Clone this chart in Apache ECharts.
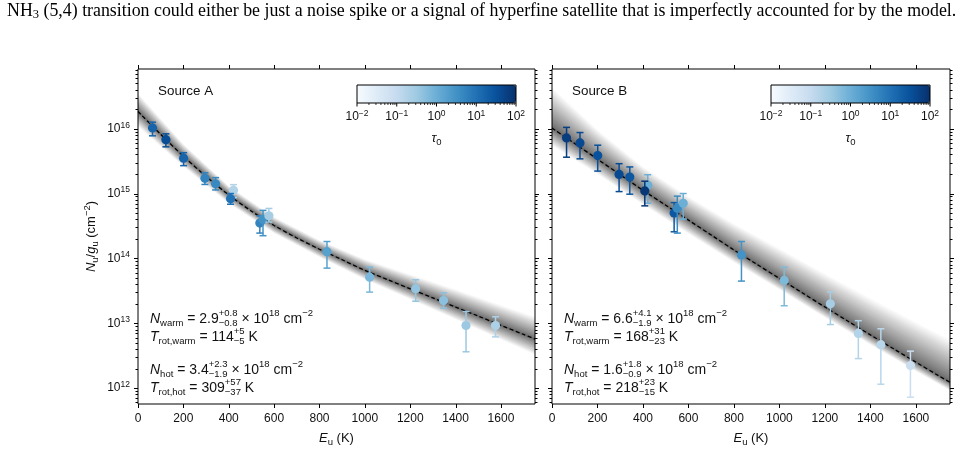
<!DOCTYPE html>
<html>
<head>
<meta charset="utf-8">
<script src="https://cdn.jsdelivr.net/npm/echarts@6/dist/echarts.min.js"></script>
<style>
html, body { margin: 0; padding: 0; background: #fff; }
#chart { width: 965px; height: 452px; }
</style>
</head>
<body>
<div id="chart"></div>
<script>
// upper level energies (K), same transitions for both sources
var energies = [64, 123, 201, 295, 342, 421, 408, 537, 551, 577, 833, 1021, 1224, 1347, 1446, 1576];

// Source A : log10(Nu/gu), error bar ends and log10(tau0)
var logNA = [16.01, 15.83, 15.545, 15.234, 15.15, 15.05, 14.92, 14.544, 14.60, 14.656, 14.104, 13.71, 13.533, 13.35, 12.965, 12.965];
var hiA   = [16.10, 15.92, 15.63, 15.32, 15.245, 15.137, 15.0, 14.656, 14.74, 14.77, 14.26, 13.865, 13.67, 13.47, 13.18, 13.10];
var loA   = [15.89, 15.72, 15.43, 15.14, 15.055, 14.938, 14.835, 14.39, 14.35, 14.56, 13.85, 13.48, 13.34, 13.23, 12.56, 12.79];
var tauA  = [1.2, 1.56, 1.2, 0.72, 0.64, -0.76, 1.0, 0.72, 0.48, -0.6, 0.24, -0.16, -0.4, -0.32, -0.48, -0.68];

// Source B
var logNB = [15.857, 15.78, 15.586, 15.295, 15.254, 15.126, 15.04, 14.70, 14.774, 14.85, 14.054, 13.66, 13.30, 12.843, 12.67, 12.348];
var hiB   = [16.02, 15.94, 15.745, 15.46, 15.41, 15.29, 15.19, 14.86, 14.96, 15.0, 14.26, 13.865, 13.48, 13.04, 12.915, 12.57];
var loB   = [15.56, 15.535, 15.346, 15.03, 14.99, 14.85, 14.81, 14.41, 14.39, 14.605, 13.65, 13.27, 12.98, 12.455, 12.06, 11.86];
var tauB  = [1.8, 1.6, 1.5, 1.6, 1.4, 0.0, 1.9, 1.4, 0.6, 0.0, 0.48, -0.2, -0.6, -0.76, -0.84, -1.08];

// best fit curves (log10)
var fitE = [0, 100, 200, 300, 400, 500, 600, 700, 800, 900, 1000, 1100, 1200, 1300, 1400, 1500, 1600, 1700, 1750];
var fitA = [16.265, 15.912, 15.575, 15.262, 14.978, 14.728, 14.508, 14.315, 14.141, 13.979, 13.815, 13.672, 13.530, 13.390, 13.250, 13.110, 12.968, 12.827, 12.756];
var fitB = [16.01, 15.77, 15.53, 15.29, 15.05, 14.82, 14.59, 14.36, 14.13, 13.91, 13.69, 13.47, 13.25, 13.035, 12.82, 12.61, 12.40, 12.19, 12.09];

// spread of the posterior band above / below the fit (dex)
var bandE   = [0, 200, 400, 600, 800, 1000, 1200, 1400, 1600, 1750];
var bandUpA = [0.28, 0.19, 0.14, 0.13, 0.14, 0.17, 0.22, 0.27, 0.31, 0.34];
var bandLoA = [0.23, 0.16, 0.13, 0.12, 0.12, 0.14, 0.16, 0.19, 0.22, 0.24];
var bandUpB = [0.62, 0.45, 0.36, 0.36, 0.40, 0.46, 0.51, 0.56, 0.61, 0.65];
var bandLoB = [0.27, 0.23, 0.22, 0.21, 0.19, 0.17, 0.16, 0.15, 0.14, 0.13];

var xTicks = [0, 200, 400, 600, 800, 1000, 1200, 1400, 1600];
var yMajor = [12, 13, 14, 15, 16];
var cbMajor = [-2, -1, 0, 1, 2];

var fitTextA = [
    [['N', 'i'], ['warm', 'sub'], [' = 2.9', 'n'], ['+0.8|−0.8', 'pm'], [' × 10', 'n'], ['18', 'sup'], [' cm', 'n'], ['−2', 'sup']],
    [['T', 'i'], ['rot,warm', 'sub'], [' = 114', 'n'], ['+5|−5', 'pm'], [' K', 'n']],
    [['N', 'i'], ['hot', 'sub'], [' = 3.4', 'n'], ['+2.3|−1.9', 'pm'], [' × 10', 'n'], ['18', 'sup'], [' cm', 'n'], ['−2', 'sup']],
    [['T', 'i'], ['rot,hot', 'sub'], [' = 309', 'n'], ['+57|−37', 'pm'], [' K', 'n']]
];
var fitTextB = [
    [['N', 'i'], ['warm', 'sub'], [' = 6.6', 'n'], ['+4.1|−1.9', 'pm'], [' × 10', 'n'], ['18', 'sup'], [' cm', 'n'], ['−2', 'sup']],
    [['T', 'i'], ['rot,warm', 'sub'], [' = 168', 'n'], ['+31|−23', 'pm'], [' K', 'n']],
    [['N', 'i'], ['hot', 'sub'], [' = 1.6', 'n'], ['+1.8|−0.9', 'pm'], [' × 10', 'n'], ['18', 'sup'], [' cm', 'n'], ['−2', 'sup']],
    [['T', 'i'], ['rot,hot', 'sub'], [' = 218', 'n'], ['+23|−15', 'pm'], [' K', 'n']]
];

var caption = ' (5,4) transition could either be just a noise spike or a signal of hyperfine satellite that is imperfectly accounted for by the model.';

var blues = ['#f7fbff', '#deebf7', '#c6dbef', '#9ecae1', '#6baed6', '#4292c6', '#2171b5', '#08519c', '#08306b'];

var FONT = '"Liberation Sans", Arial, sans-serif';
var SERIF = '"Liberation Serif", "Times New Roman", serif';
var Y_MIN = 11.755, Y_MAX = 16.92;
var N_LAYERS = 30;

var yMinor = [];
for (var n = 11; n <= 16; n++) {
    for (var k = 2; k <= 9; k++) {
        var v = n + Math.log10(k);
        if (v > Y_MIN && v < Y_MAX) yMinor.push(v);
    }
}
var cbMinor = [];
for (var n2 = -2; n2 < 2; n2++) {
    for (var k2 = 2; k2 <= 9; k2++) cbMinor.push(n2 + Math.log10(k2));
}

var measure = document.createElement('canvas').getContext('2d');
function textWidth(t, size, italic, family) {
    measure.font = (italic ? 'italic ' : '') + size + 'px ' + (family || FONT);
    return measure.measureText(t).width;
}

function expLabel(v) {
    var r = Math.round(v);
    if (Math.abs(v - r) > 1e-6) return '';
    return '{n|10}{p|' + (r < 0 ? '−' + (-r) : r) + '}';
}

var tickRich = {
    n: { fontSize: 12, lineHeight: 16, fontFamily: FONT, color: '#111' },
    p: { fontSize: 8.5, lineHeight: 8, verticalAlign: 'top', fontFamily: FONT, color: '#111' }
};
var nameRich = {
    n: { fontSize: 13, lineHeight: 18, fontFamily: FONT, color: '#111' },
    i: { fontSize: 13, lineHeight: 18, fontFamily: FONT, fontStyle: 'italic', color: '#111' },
    s: { fontSize: 9.5, lineHeight: 10, verticalAlign: 'bottom', fontFamily: FONT, color: '#111' },
    p: { fontSize: 9.5, lineHeight: 10, verticalAlign: 'top', fontFamily: FONT, color: '#111' }
};

function seg(x1, y1, x2, y2, w) {
    return { type: 'line', shape: { x1: x1, y1: y1, x2: x2, y2: y2 }, style: { stroke: '#000', lineWidth: w || 1 } };
}

// frame ticks drawn outward on all four sides
function frameTicks(params, api) {
    var cs = params.coordSys;
    var L = cs.x, R = cs.x + cs.width, T = cs.y, B = cs.y + cs.height;
    var kids = [];
    xTicks.forEach(function (v) {
        var px = Math.round(api.coord([v, Y_MIN])[0]) + 0.5;
        kids.push(seg(px, B, px, B + 4));
        kids.push(seg(px, T, px, T - 4));
    });
    yMajor.forEach(function (v) {
        var py = Math.round(api.coord([0, v])[1]) + 0.5;
        kids.push(seg(L - 4, py, L, py));
        kids.push(seg(R, py, R + 4, py));
    });
    yMinor.forEach(function (v) {
        var py = Math.round(api.coord([0, v])[1]) + 0.5;
        kids.push(seg(L - 2.5, py, L, py));
        kids.push(seg(R, py, R + 2.5, py));
    });
    return { type: 'group', children: kids };
}

function colorbarTicks(params, api) {
    var cs = params.coordSys;
    var B = cs.y + cs.height;
    var kids = [];
    cbMajor.forEach(function (v) {
        var px = api.coord([v, 0])[0];
        kids.push(seg(px, B, px, B + 3.5));
    });
    cbMinor.forEach(function (v) {
        var px = api.coord([v, 0])[0];
        kids.push(seg(px, B, px, B + 2, 0.8));
    });
    return { type: 'group', children: kids };
}

function renderPoint(params, api) {
    var e = api.value(0);
    var c = api.coord([e, api.value(1)]);
    var lo = api.coord([e, api.value(2)]);
    var hi = api.coord([e, api.value(3)]);
    var color = api.visual('color');
    var st = { stroke: color, lineWidth: 1.5 };
    return {
        type: 'group',
        children: [
            { type: 'line', shape: { x1: c[0], y1: hi[1], x2: c[0], y2: lo[1] }, style: st },
            { type: 'line', shape: { x1: c[0] - 3.5, y1: hi[1], x2: c[0] + 3.5, y2: hi[1] }, style: st },
            { type: 'line', shape: { x1: c[0] - 3.5, y1: lo[1], x2: c[0] + 3.5, y2: lo[1] }, style: st },
            { type: 'circle', shape: { cx: c[0], cy: c[1], r: 4.6 }, style: { fill: color } }
        ]
    };
}

// soft grey band: many thin translucent layers, packed towards the fit line
function bandSeries(idx, fit, up, lo) {
    var layers = [];
    for (var k = 0; k < N_LAYERS; k++) layers.push([0, fit[0]]);
    return {
        type: 'custom', xAxisIndex: idx, yAxisIndex: idx, silent: true, z: 1,
        data: layers,
        renderItem: function (params, api) {
            var f = Math.pow((params.dataIndex + 1) / N_LAYERS, 1.5);
            var top = [], bot = [];
            bandE.forEach(function (e, i) {
                var mid = fit[fitE.indexOf(e)];
                top.push(api.coord([e, mid + up[i] * f]));
                bot.unshift(api.coord([e, mid - lo[i] * f]));
            });
            return { type: 'polygon', shape: { points: top.concat(bot) }, style: { fill: 'rgba(0,0,0,0.026)' } };
        }
    };
}

function fitSeries(idx, fit) {
    return {
        type: 'line', xAxisIndex: idx, yAxisIndex: idx, silent: true, z: 3,
        data: fitE.map(function (e, i) { return [e, fit[i]]; }),
        symbol: 'none', smooth: 0.3,
        lineStyle: { color: '#000', width: 1.3, type: [4, 2.5] }
    };
}

function pointSeries(idx, logN, lo, hi, tau) {
    return {
        type: 'custom', xAxisIndex: idx, yAxisIndex: idx, silent: true, z: 4,
        data: energies.map(function (e, i) { return [e, logN[i], lo[i], hi[i], tau[i]]; }),
        encode: { x: 0, y: [1, 2, 3] },
        renderItem: renderPoint
    };
}

function mainX(idx) {
    return {
        type: 'value', gridIndex: idx, min: 0, max: 1750, interval: 200,
        axisLine: { show: false }, axisTick: { show: false }, splitLine: { show: false },
        axisLabel: {
            margin: 9, fontSize: 12, fontFamily: FONT, color: '#111',
            formatter: function (v) { return v % 200 === 0 ? String(v) : ''; }
        },
        name: '{i|E}{s|u}{n| (K)}', nameLocation: 'middle', nameGap: 25,
        nameTextStyle: { rich: nameRich }
    };
}

function mainY(idx, labels) {
    var ax = {
        type: 'value', gridIndex: idx, min: Y_MIN, max: Y_MAX,
        axisLine: { show: false }, axisTick: { show: false }, splitLine: { show: false },
        axisLabel: { show: labels, margin: 8, formatter: expLabel, rich: tickRich }
    };
    if (labels) {
        ax.name = '{i|N}{s|u}{n|/}{i|g}{s|u}{n| (cm}{p|−2}{n|)}';
        ax.nameLocation = 'middle';
        ax.nameGap = 38;
        ax.nameTextStyle = { rich: nameRich };
    }
    return ax;
}

function cbX(idx) {
    return {
        type: 'value', gridIndex: idx, min: -2, max: 2, interval: 1,
        axisLine: { show: false }, axisTick: { show: false }, splitLine: { show: false },
        axisLabel: { margin: 6, formatter: expLabel, rich: tickRich },
        name: '{i|τ}{s|0}', nameLocation: 'middle', nameGap: 26,
        nameTextStyle: { rich: nameRich }
    };
}

function cbY(idx) {
    return { type: 'value', gridIndex: idx, min: 0, max: 1, show: false };
}

// annotation text built piece by piece so sub / superscripts stack like the original
function annotation(lines, x0, ys) {
    var out = [];
    lines.forEach(function (segs, li) {
        var x = x0, y = ys[li];
        segs.forEach(function (s) {
            var t = s[0], kind = s[1];
            if (kind === 'pm') {
                var parts = t.split('|');
                out.push(txt(parts[0], x, y - 5.5, 9.5, false));
                out.push(txt(parts[1], x, y + 4.5, 9.5, false));
                x += Math.max(textWidth(parts[0], 9.5), textWidth(parts[1], 9.5));
            } else {
                var small = kind === 'sub' || kind === 'sup';
                var size = small ? 9.5 : 14;
                var dy = kind === 'sub' ? 4 : (kind === 'sup' ? -5.5 : 0);
                out.push(txt(t, x, y + dy, size, kind === 'i'));
                x += textWidth(t, size, kind === 'i');
            }
        });
    });
    return out;
}

function txt(t, x, y, size, italic) {
    return {
        type: 'text', x: x, y: y, silent: true, z: 20,
        style: {
            text: t, fontSize: size, fontFamily: FONT, fontStyle: italic ? 'italic' : 'normal',
            fill: '#111', align: 'left', verticalAlign: 'middle'
        }
    };
}

var capSize = 15;
var capW = textWidth('NH', capSize, false, SERIF) + textWidth('3', capSize * 0.7, false, SERIF) + textWidth(caption, capSize, false, SERIF);
capSize = capSize * 950 / capW;

var annY = [319.3, 337.3, 370, 388.3];

var graphics = [
    {
        type: 'text', x: 7, y: 11, silent: true,
        style: {
            text: '{a|NH}{s|3}{a|' + caption + '}',
            verticalAlign: 'middle', align: 'left',
            rich: {
                a: { fontSize: capSize, fontFamily: SERIF, fill: '#000', lineHeight: capSize + 2 },
                s: { fontSize: capSize * 0.7, fontFamily: SERIF, fill: '#000', verticalAlign: 'bottom', lineHeight: capSize * 0.6 }
            }
        }
    },
    txt('Source A', 158, 91.7, 13.4, false),
    txt('Source B', 572, 91.7, 13.4, false)
].concat(annotation(fitTextA, 150, annY)).concat(annotation(fitTextB, 564, annY));

var myChart = echarts.init(document.getElementById('chart'), null, { renderer: 'canvas' });

var option = {
    animation: false,
    backgroundColor: '#fff',
    grid: [
        { left: 138, top: 69, width: 397, height: 337, show: true, borderColor: '#000', borderWidth: 1 },
        { left: 552, top: 69, width: 398, height: 337, show: true, borderColor: '#000', borderWidth: 1 },
        { left: 357, top: 85, width: 159, height: 18, show: true, borderColor: '#000', borderWidth: 1, z: 10 },
        { left: 771, top: 85, width: 159, height: 18, show: true, borderColor: '#000', borderWidth: 1, z: 10 }
    ],
    xAxis: [mainX(0), mainX(1), cbX(2), cbX(3)],
    yAxis: [mainY(0, true), mainY(1, false), cbY(2), cbY(3)],
    visualMap: [
        {
            type: 'continuous', seriesIndex: 4, dimension: 4, min: -2, max: 2,
            orient: 'horizontal', left: 357, top: 85, itemWidth: 18, itemHeight: 159,
            padding: 0, calculable: false, hoverLink: false, inRange: { color: blues }
        },
        {
            type: 'continuous', seriesIndex: 5, dimension: 4, min: -2, max: 2,
            orient: 'horizontal', left: 771, top: 85, itemWidth: 18, itemHeight: 159,
            padding: 0, calculable: false, hoverLink: false, inRange: { color: blues }
        }
    ],
    series: [
        bandSeries(0, fitA, bandUpA, bandLoA),
        bandSeries(1, fitB, bandUpB, bandLoB),
        fitSeries(0, fitA),
        fitSeries(1, fitB),
        pointSeries(0, logNA, loA, hiA, tauA),
        pointSeries(1, logNB, loB, hiB, tauB),
        { type: 'custom', xAxisIndex: 0, yAxisIndex: 0, silent: true, clip: false, z: 6, data: [[0, 14]], renderItem: frameTicks },
        { type: 'custom', xAxisIndex: 1, yAxisIndex: 1, silent: true, clip: false, z: 6, data: [[0, 14]], renderItem: frameTicks },
        { type: 'custom', xAxisIndex: 2, yAxisIndex: 2, silent: true, clip: false, z: 6, data: [[0, 0.5]], renderItem: colorbarTicks },
        { type: 'custom', xAxisIndex: 3, yAxisIndex: 3, silent: true, clip: false, z: 6, data: [[0, 0.5]], renderItem: colorbarTicks }
    ],
    graphic: graphics
};

myChart.setOption(option);
</script>
</body>
</html>
